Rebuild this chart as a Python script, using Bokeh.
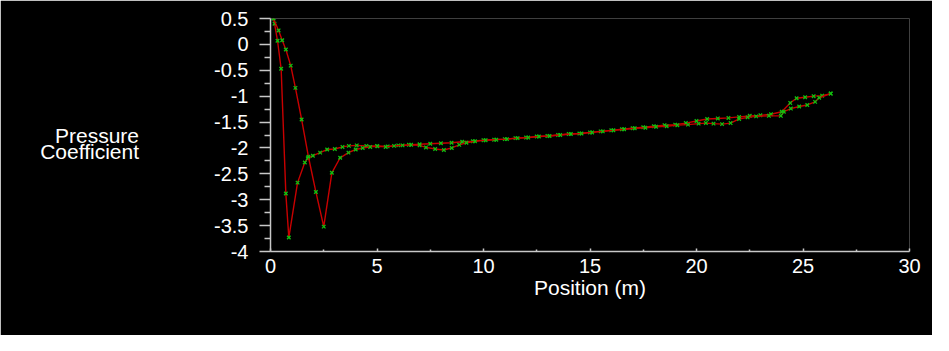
from bokeh.plotting import figure
from bokeh.models import FixedTicker, Range1d
from bokeh.embed import file_html
from bokeh.resources import INLINE

# ---- data ----
x_upper = [0.14, 0.19, 0.33, 0.50, 0.72, 0.86, 1.27, 1.61, 1.75, 1.99, 2.33, 2.66, 3.02, 3.38, 3.68,
           4.05, 4.5, 5.0, 5.5, 6.0, 6.5, 7.0, 7.5, 8.0, 8.5, 9.0, 9.5, 10.0, 10.5, 11.0, 11.5, 12.0,
           12.5, 13.0, 13.5, 14.0, 14.5, 15.0, 15.5, 16.0, 16.5, 17.0, 17.5, 18.0, 18.5, 19.0, 19.5,
           20.0, 20.5, 21.0, 21.5, 22.0, 22.5, 23.0, 23.5, 24.0, 24.4, 24.7, 25.1, 25.5, 25.9, 26.3]
y_upper = [0.50, 0.40, 0.07, -0.47, -2.88, -3.73, -2.67, -2.28, -2.20, -2.15, -2.09, -2.03, -2.02, -1.98, -1.96,
           -1.95, -1.96, -1.96, -1.97, -1.95, -1.94, -1.93, -1.92, -1.91, -1.90, -1.88, -1.87, -1.85, -1.84, -1.83, -1.81, -1.80,
           -1.78, -1.77, -1.75, -1.73, -1.72, -1.70, -1.68, -1.66, -1.64, -1.62, -1.60, -1.58, -1.56, -1.55, -1.52,
           -1.48, -1.44, -1.43, -1.42, -1.40, -1.38, -1.37, -1.35, -1.30, -1.13, -1.04, -1.02, -1.00, -0.99, -0.95]

x_lower = [0.14, 0.38, 0.55, 0.72, 0.95, 1.17, 1.46, 1.78, 2.13, 2.50, 2.88, 3.27, 3.66, 4.00,
           4.33, 4.68, 5.02, 5.41, 5.8, 6.2, 6.6, 7.0, 7.3, 7.73, 8.14, 8.51, 8.86, 9.2, 9.6, 10.1, 10.6,
           11.1, 11.6, 12.1, 12.6, 13.1, 13.6, 14.1, 14.6, 15.1, 15.6, 16.1, 16.6, 17.1, 17.6, 18.1, 18.6,
           19.1, 19.6, 20.1, 20.44, 20.8, 21.2, 21.6, 22.0, 22.4, 22.8, 23.4, 23.96, 24.1, 24.43, 24.82,
           25.2, 25.57, 25.76, 26.3]
y_lower = [0.50, 0.27, 0.08, -0.10, -0.41, -0.84, -1.45, -2.17, -2.85, -3.52, -2.48, -2.19, -2.09, -2.03,
           -2.00, -1.98, -1.97, -1.98, -1.96, -1.95, -1.94, -1.95, -1.99, -2.02, -2.04, -2.00, -1.94, -1.90, -1.87, -1.85, -1.84,
           -1.83, -1.81, -1.80, -1.78, -1.77, -1.75, -1.73, -1.72, -1.70, -1.68, -1.66, -1.64, -1.62, -1.61, -1.59, -1.58,
           -1.56, -1.55, -1.53, -1.52, -1.53, -1.54, -1.52, -1.44, -1.41, -1.39, -1.38, -1.38, -1.30, -1.24, -1.20,
           -1.17, -1.11, -1.03, -0.95]

x_ticks = [0, 5, 10, 15, 20, 25, 30]
x_tick_labels = ["0", "5", "10", "15", "20", "25", "30"]
x_minor = [2.5, 7.5, 12.5, 17.5, 22.5, 27.5]
y_ticks = [0.5, 0, -0.5, -1, -1.5, -2, -2.5, -3, -3.5, -4]
y_tick_labels = ["0.5", "0", "-0.5", "-1", "-1.5", "-2", "-2.5", "-3", "-3.5", "-4"]
y_minor = [0.25, -0.25, -0.75, -1.25, -1.75, -2.25, -2.75, -3.25, -3.75]
y_title_lines = ["Pressure", "Coefficient"]

FONT = "Liberation Sans"
AX = "#c8c8c8"

p = figure(width=932, height=335, output_backend="svg", toolbar_location=None,
           x_range=Range1d(0, 30), y_range=Range1d(-4, 0.5),
           min_border_left=270, min_border_right=23, min_border_top=18, min_border_bottom=84)
p.background_fill_color = "black"
p.border_fill_color = "black"
p.outline_line_color = None
p.grid.visible = False

for xs, ys in ((x_upper, y_upper), (x_lower, y_lower)):
    p.line(xs, ys, line_color="#c80000", line_width=1.4)
    p.scatter(xs, ys, marker="x", size=5, line_color="#10c010", line_width=1.3)

# axes
p.xaxis.ticker = FixedTicker(ticks=x_ticks, minor_ticks=x_minor)
p.xaxis.major_label_overrides = {t: l for t, l in zip(x_ticks, x_tick_labels)}
p.yaxis.ticker = FixedTicker(ticks=y_ticks, minor_ticks=y_minor)
p.yaxis.major_label_overrides = {t: l for t, l in zip(y_ticks, y_tick_labels)}

for ax in (p.xaxis, p.yaxis):
    ax.axis_line_color = AX
    ax.axis_line_width = 1.5
    ax.major_tick_line_color = AX
    ax.minor_tick_line_color = AX
    ax.major_tick_line_width = 1.5
    ax.minor_tick_line_width = 1.5
    ax.major_label_text_color = "white"
    ax.major_label_text_font = FONT
    ax.major_label_text_font_size = "20px"
    ax.axis_label_text_color = "white"
    ax.axis_label_text_font = FONT
    ax.axis_label_text_font_size = "21px"
    ax.axis_label_text_font_style = "normal"

p.yaxis.major_tick_out = 11
p.yaxis.major_tick_in = 0
p.yaxis.minor_tick_out = 6
p.yaxis.minor_tick_in = 0
p.yaxis.major_label_standoff = 11

p.xaxis.major_tick_out = 0
p.xaxis.major_tick_in = 3
p.xaxis.minor_tick_out = 0
p.xaxis.minor_tick_in = 2
p.xaxis.major_label_standoff = 7
p.xaxis.axis_label = "Position (m)"
p.xaxis.axis_label_standoff = 0

# two-line horizontal title; no-break spaces pad the shorter line so both end flush right,
# and a leading blank line lowers the block slightly, as in the reference
p.yaxis.axis_label = "\u00a0\n" + "\u00a0\u00a0\u00a0" + y_title_lines[0] + "\n" + y_title_lines[1]
p.yaxis.axis_label_orientation = "horizontal"
p.yaxis.axis_label_text_line_height = 0.72
p.yaxis.axis_label_standoff = 72

open("out.html", "w").write(file_html(p, INLINE))
